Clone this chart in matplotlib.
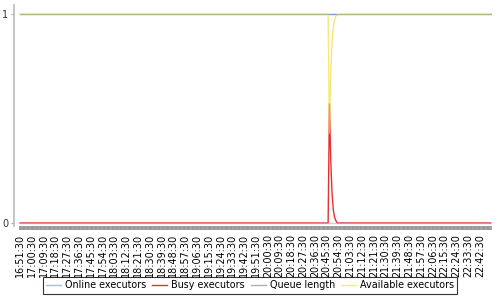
import matplotlib
matplotlib.use("Agg")
import matplotlib.pyplot as plt
import numpy as np

# categorias: uma por minuto, a partir de 16:51:30
n_cat = 360
inicio_min = 16 * 60 + 51
horas = ['%02d:%02d:30' % (((inicio_min + i) // 60) % 24, (inicio_min + i) % 60) for i in range(n_cat)]

# séries
online = [1.0] * 360
busy = [0.0] * 236 + [0.57, 0.30, 0.14, 0.06, 0.025, 0.01] + [0.0] * 118
queue = [0.0] * 360
available = [1.0] * 236 + [0.43, 0.72, 0.87, 0.94, 0.975, 0.99, 0.997] + [1.0] * 117

cores = {'online': '#6f9fe0', 'busy': '#e83030', 'queue': '#b0b0b0', 'available': '#f0dc30'}

fig = plt.figure(figsize=(5, 3), dpi=100)
ax = fig.add_axes([0.028, 0.247, 0.956, 0.736])

x = np.arange(n_cat)
ax.plot(x, online, color=cores['online'], linewidth=1.0, label='Online executors')
ax.plot(x, busy, color=cores['busy'], linewidth=1.0, label='Busy executors')
ax.plot(x, queue, color=cores['queue'], linewidth=1.0, alpha=0.6, label='Queue length')
ax.plot(x, available, color=cores['available'], linewidth=1.0, alpha=0.65, label='Available executors')

ax.set_xlim(-4.6, 360)
ax.set_ylim(-0.014, 1.043)

ax.set_yticks([0, 1])
ax.set_yticklabels(['0', '1'], fontsize=7, color='#333333')
ax.tick_params(axis='y', length=2, width=0.8, color='#aaaaaa', pad=2)

ax.set_xticks(x)
ax.set_xticklabels([h if i % 9 == 0 else '' for i, h in enumerate(horas)],
                   rotation=90, fontsize=6.9, color='#000000')
ax.tick_params(axis='x', length=3, width=1.3, color='#999999', pad=3)

for lado in ['top', 'right', 'bottom']:
    ax.spines[lado].set_visible(False)
ax.spines['left'].set_color('#bbbbbb')
ax.spines['left'].set_linewidth(1.2)

leg = fig.legend(loc='lower center', bbox_to_anchor=(0.5, 0.005), ncol=4, fontsize=6.9,
                 frameon=True, fancybox=False, handlelength=1.6, handletextpad=0.4,
                 columnspacing=0.6, borderpad=0.35)
leg.get_frame().set_edgecolor('#000000')
leg.get_frame().set_linewidth(0.8)
for linha in leg.get_lines():
    linha.set_alpha(1.0)
    linha.set_linewidth(1.0)
leg.get_lines()[0].set_color('#a8c0e0')
leg.get_lines()[3].set_color('#f8ec70')

plt.savefig("out.png", dpi=100)
